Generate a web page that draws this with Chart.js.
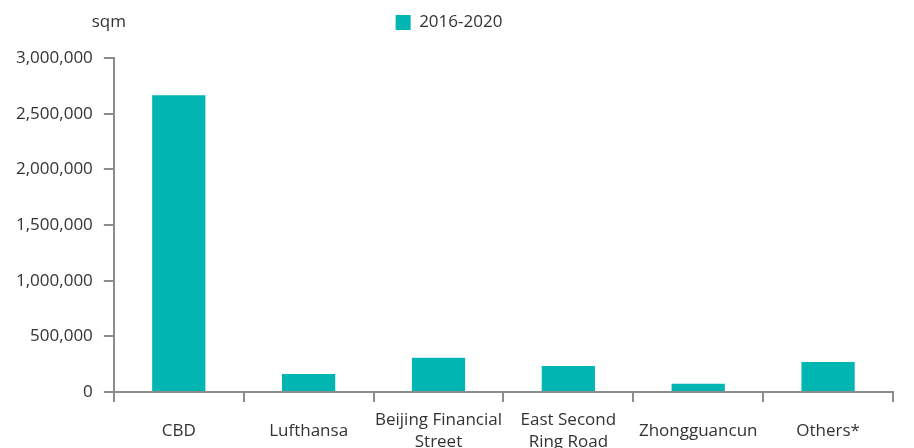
<!DOCTYPE html>
<html>
<head>
<meta charset="utf-8">
<script src="https://cdn.jsdelivr.net/npm/chart.js@4"></script>
<style>
  html, body { margin: 0; padding: 0; background: #fff; }
  #wrap { width: 914px; height: 448px; }
</style>
</head>
<body>
<div id="wrap"><canvas id="mycanvas"></canvas></div>
<script>
var districts = ['CBD', 'Lufthansa', ['Beijing Financial', 'Street'], ['East Second', 'Ring Road'], 'Zhongguancun', 'Others*'];
var supply = [2665000, 162000, 307000, 233000, 74000, 270000];
var seriesName = '2016-2020';
var unitLabel = 'sqm';

var axisGrey = '#8c8c8c';
var textGrey = '#333333';
Chart.defaults.font.family = '"Open Sans", "Noto Sans", sans-serif';
Chart.defaults.font.size = 17;
Chart.defaults.color = textGrey;

// unit text above the y axis, plus extra room under the legend
var unitPlugin = {
  id: 'unit',
  beforeInit: function(chart) {
    var origFit = chart.legend.fit;
    chart.legend.fit = function() {
      origFit.bind(chart.legend)();
      this.height += 17;
    };
  },
  afterDraw: function(chart) {
    var c = chart.ctx;
    c.save();
    c.font = '17px "Open Sans", "Noto Sans", sans-serif';
    c.fillStyle = textGrey;
    c.textAlign = 'center';
    c.textBaseline = 'middle';
    c.fillText(unitLabel, chart.chartArea.left - 5, 22);
    c.restore();
  }
};

var ctx = document.getElementById('mycanvas');
var barGraph = new Chart(ctx, {
  type: 'bar',
  data: {
    labels: districts,
    datasets: [{
      label: seriesName,
      data: supply,
      backgroundColor: '#00b5b2',
      borderWidth: 0,
      categoryPercentage: 1,
      barPercentage: 0.41
    }]
  },
  options: {
    responsive: true,
    maintainAspectRatio: false,
    animation: false,
    layout: { padding: { left: 5, right: 21, top: 0, bottom: 0 } },
    plugins: {
      legend: {
        display: true,
        labels: { boxWidth: 15, boxHeight: 15, padding: 14, color: textGrey }
      },
      tooltip: { enabled: false }
    },
    scales: {
      x: {
        afterFit: function(scale) { scale.height = 56; },
        grid: {
          display: true, drawOnChartArea: false, drawTicks: true,
          tickLength: 10, color: axisGrey, lineWidth: 2, offset: true
        },
        border: { display: true, color: axisGrey, width: 2 },
        ticks: { padding: 18, crossAlign: 'center', maxRotation: 0, autoSkip: false, font: { size: 17, lineHeight: 1.3 } }
      },
      y: {
        min: 0,
        max: 3000000,
        grid: {
          display: true, drawOnChartArea: false, drawTicks: true,
          tickLength: 10, color: axisGrey, lineWidth: 2
        },
        border: { display: true, color: axisGrey, width: 2 },
        ticks: {
          stepSize: 500000,
          padding: 11,
          callback: function(v) { return v.toLocaleString('en-US'); }
        }
      }
    }
  },
  plugins: [unitPlugin]
});
</script>
</body>
</html>
